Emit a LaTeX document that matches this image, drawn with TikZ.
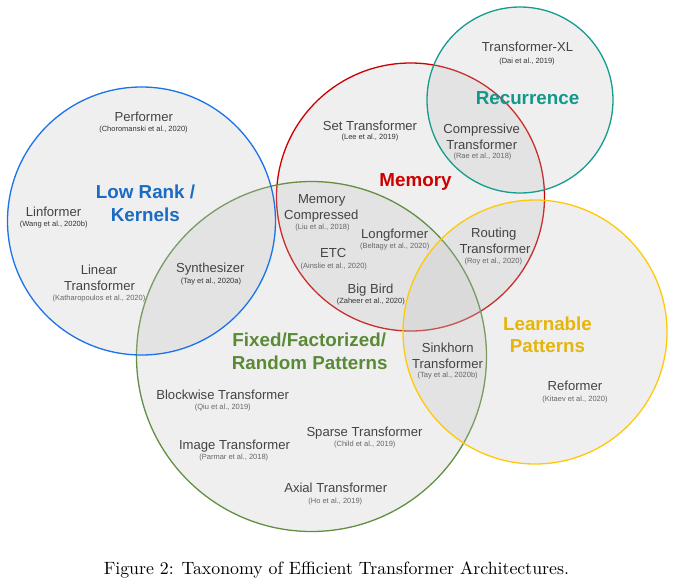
\documentclass[tikz,border=0pt]{standalone}
\usepackage{fontspec}
\newfontfamily\diafont{Liberation Sans}
\definecolor{bluec}{HTML}{1A73E8}
\definecolor{bluet}{HTML}{1A6BC4}
\definecolor{redc}{HTML}{CC0000}
\definecolor{tealc}{HTML}{139C8E}
\definecolor{tealt}{HTML}{12988A}
\definecolor{yellowc}{HTML}{FFC908}
\definecolor{yellowt}{HTML}{E5B50C}
\definecolor{greenc}{HTML}{638F45}
\definecolor{greent}{HTML}{5B8A36}
\definecolor{fillg}{HTML}{BFBFBF}
\definecolor{itemg}{HTML}{434343}
\definecolor{cited}{HTML}{333333}
\definecolor{citel}{HTML}{666666}
\tikzset{
  venn/.style={circle, inner sep=0pt, line width=1.3pt, fill=fillg, fill opacity=0.25, draw opacity=1},
  item/.style={font=\diafont\fontsize{13.1}{15}\selectfont, text=itemg, inner sep=0pt, text height=9.4pt, text depth=0pt},
  citeD/.style={font=\diafont\fontsize{7.5}{9}\selectfont, text=cited, inner sep=0pt, text height=5.4pt, text depth=0pt},
  citeL/.style={font=\diafont\fontsize{7.5}{9}\selectfont, text=citel, inner sep=0pt, text height=5.4pt, text depth=0pt},
  ttl/.style={font=\diafont\bfseries\fontsize{18.8}{22}\selectfont, inner sep=0pt, text height=13.5pt, text depth=0pt},
  capt/.style={font=\fontsize{10}{12}\selectfont, inner sep=0pt, text height=6.83pt, text depth=0pt, scale=1.78}
}
\begin{document}
\begin{tikzpicture}[x=1pt,y=-1pt]
\useasboundingbox (0,0) rectangle (683,584);
% circles
\node[venn, draw=redc, minimum size=268pt] (memc) at (410.5,197) {};
\node[venn, draw=greenc, minimum size=350pt] (fixc) at (311.5,356.5) {};
\node[venn, draw=tealc, minimum size=186pt] (recc) at (520,100) {};
\node[venn, draw=yellowc, minimum size=264pt] (learnc) at (535,332) {};
\node[venn, draw=bluec, minimum size=268pt] (lowc) at (141.5,221) {};
% titles
\node[ttl, text=bluet] (lr1) at (145.5,191.7) {Low Rank /};
\node[ttl, text=bluet] (lr2) at (145.3,215) {Kernels};
\node[ttl, text=redc] (memt) at (415.5,180) {Memory};
\node[ttl, text=tealt] (rect) at (527.5,97.3) {Recurrence};
\node[ttl, text=yellowt] (lp1) at (547.5,323.3) {Learnable};
\node[ttl, text=yellowt] (lp2) at (547.5,346) {Patterns};
\node[ttl, text=greent] (fx1) at (309.2,339.3) {Fixed/Factorized/};
\node[ttl, text=greent] (fx2) at (309.7,362.7) {Random Patterns};
% items
\node[item] (perf) at (143.8,116.7) {Performer};
\node[citeD] (perfc) at (143.5,128.3) {(Choromanski et al., 2020)};
\node[item] (linf) at (53.5,211.7) {Linformer};
\node[citeD] (linfc) at (53.7,224) {(Wang et al., 2020b)};
\node[item] (lin1) at (99,270) {Linear};
\node[item] (lin2) at (99.5,285.7) {Transformer};
\node[citeL] (linc) at (99,297.7) {(Katharopoulos et al., 2020)};
\node[item] (syn) at (210.3,267.7) {Synthesizer};
\node[citeD] (sync) at (211,280.3) {(Tay et al., 2020a)};
\node[item] (txl) at (527.5,46.7) {Transformer-XL};
\node[citeD] (txlc) at (527,60.7) {(Dai et al., 2019)};
\node[item] (set) at (370,125.7) {Set Transformer};
\node[citeD] (setc) at (370,137) {(Lee et al., 2019)};
\node[item] (comp1) at (481.7,128.3) {Compressive};
\node[item] (comp2) at (481.7,145) {Transformer};
\node[citeL] (compc) at (482.5,156) {(Rae et al., 2018)};
\node[item] (mc1) at (321.7,199) {Memory};
\node[item] (mc2) at (321.3,214.3) {Compressed};
\node[citeL] (mcc) at (322.5,226.7) {(Liu et al., 2018)};
\node[item] (long) at (394.7,234) {Longformer};
\node[citeL] (longc) at (394.7,246) {(Beltagy et al., 2020)};
\node[item] (etc) at (333.3,252.3) {ETC};
\node[citeL] (etcc) at (333.8,265.3) {(Ainslie et al., 2020)};
\node[item] (bb) at (370.5,288.3) {Big Bird};
\node[citeD] (bbc) at (370.8,300.7) {(Zaheer et al., 2020)};
\node[item] (rt1) at (493.8,232.7) {Routing};
\node[item] (rt2) at (495,248.3) {Transformer};
\node[citeL] (rtc) at (493.3,260.3) {(Roy et al., 2020)};
\node[item] (sk1) at (447.7,347.3) {Sinkhorn};
\node[item] (sk2) at (447.5,363.3) {Transformer};
\node[citeL] (skc) at (447.7,375) {(Tay et al., 2020b)};
\node[item] (blk) at (222.7,394.3) {Blockwise Transformer};
\node[citeL] (blkc) at (222.8,406.7) {(Qiu et al., 2019)};
\node[item] (spa) at (364.5,431.7) {Sparse Transformer};
\node[citeL] (spac) at (364.8,443.3) {(Child et al., 2019)};
\node[item] (img) at (234.5,445) {Image Transformer};
\node[citeL] (imgc) at (233.8,456.7) {(Parmar et al., 2018)};
\node[item] (axi) at (335.7,487.3) {Axial Transformer};
\node[citeL] (axic) at (335.3,500.7) {(Ho et al., 2019)};
\node[item] (ref) at (575,385.7) {Reformer};
\node[citeL] (refc) at (575,398.3) {(Kitaev et al., 2020)};
% caption
\node[capt] (cap) at (336.4,568) {Figure 2: Taxonomy of Efficient Transformer Architectures.};
\end{tikzpicture}
\end{document}
